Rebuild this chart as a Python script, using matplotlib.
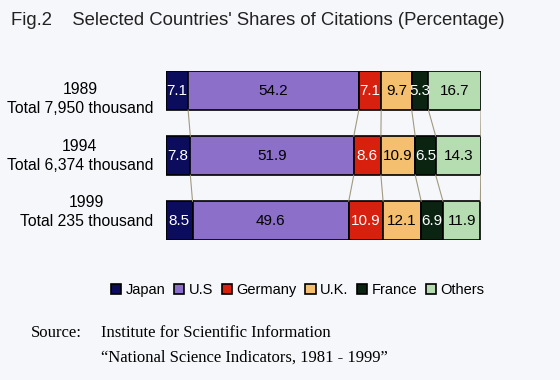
import matplotlib.pyplot as plt
import numpy as np

plt.rcParams['font.family'] = ['Liberation Sans', 'DejaVu Sans']

years = ['1989\nTotal 7,950 thousand', '1994\nTotal 6,374 thousand', '1999\nTotal 235 thousand']
countries = ['Japan', 'U.S', 'Germany', 'U.K.', 'France', 'Others']
shares = {
    'Japan': [7.1, 7.8, 8.5],
    'U.S': [54.2, 51.9, 49.6],
    'Germany': [7.1, 8.6, 10.9],
    'U.K.': [9.7, 10.9, 12.1],
    'France': [5.3, 6.5, 6.9],
    'Others': [16.7, 14.3, 11.9],
}
colors = ['#0c0c5c', '#8b6fc9', '#d8200f', '#f4bf6e', '#0b2412', '#b6dcb2']
text_colors = ['white', 'black', 'white', 'black', 'white', 'black']

bg = '#f6f7fb'
fig = plt.figure(figsize=(5.6, 3.8), dpi=100, facecolor=bg)
ax = fig.add_axes([0.296, 0.368, 0.563, 0.445])
ax.set_facecolor(bg)

h = 0.6
y = np.arange(len(years))
left = np.zeros(len(years))
for c, col, tc in zip(countries, colors, text_colors):
    vals = np.array(shares[c])
    ax.barh(y, vals, left=left, height=h, color=col, edgecolor='black', linewidth=1.2, label=c)
    for yi, l, v in zip(y, left, vals):
        ax.text(l + v / 2, yi, f'{v:.1f}', ha='center', va='center', color=tc, fontsize=11)
    left = left + vals

# connector lines between bars
cum = np.cumsum(np.array([shares[c] for c in countries]), axis=0)
for row in cum:
    for i in range(len(years) - 1):
        ax.plot([row[i], row[i + 1]], [y[i] + h / 2, y[i + 1] - h / 2], color='#a09a80', lw=0.8)

ax.set_xlim(0, cum[-1].max())
ax.set_ylim(len(years) - 1 + h / 2, -h / 2)
ax.axis('off')

for yi, lab in zip(y, years):
    ax.text(-0.04, 1 - (yi + 0.5) / len(years), lab, transform=ax.transAxes,
            ha='right', va='center', multialignment='center', fontsize=11.3, linespacing=1.35)

fig.text(0.02, 0.945, "Fig.2    Selected Countries' Shares of Citations (Percentage)",
         fontsize=13.3, color='#222222', va='center')

fig.legend(loc='center', bbox_to_anchor=(0.532, 0.237), ncol=6, frameon=False,
           fontsize=10.5, handlelength=0.7, handleheight=0.7, handletextpad=0.3,
           columnspacing=0.6)

fig.text(0.055, 0.124, 'Source:', family='Liberation Serif', fontsize=12, va='center')
fig.text(0.18, 0.124, 'Institute for Scientific Information', family='Liberation Serif',
         fontsize=12, va='center')
fig.text(0.18, 0.06, '\u201cNational Science Indicators, 1981 - 1999\u201d', family='Liberation Serif',
         fontsize=12, va='center')

fig.savefig('out.png', dpi=100, facecolor=bg)
